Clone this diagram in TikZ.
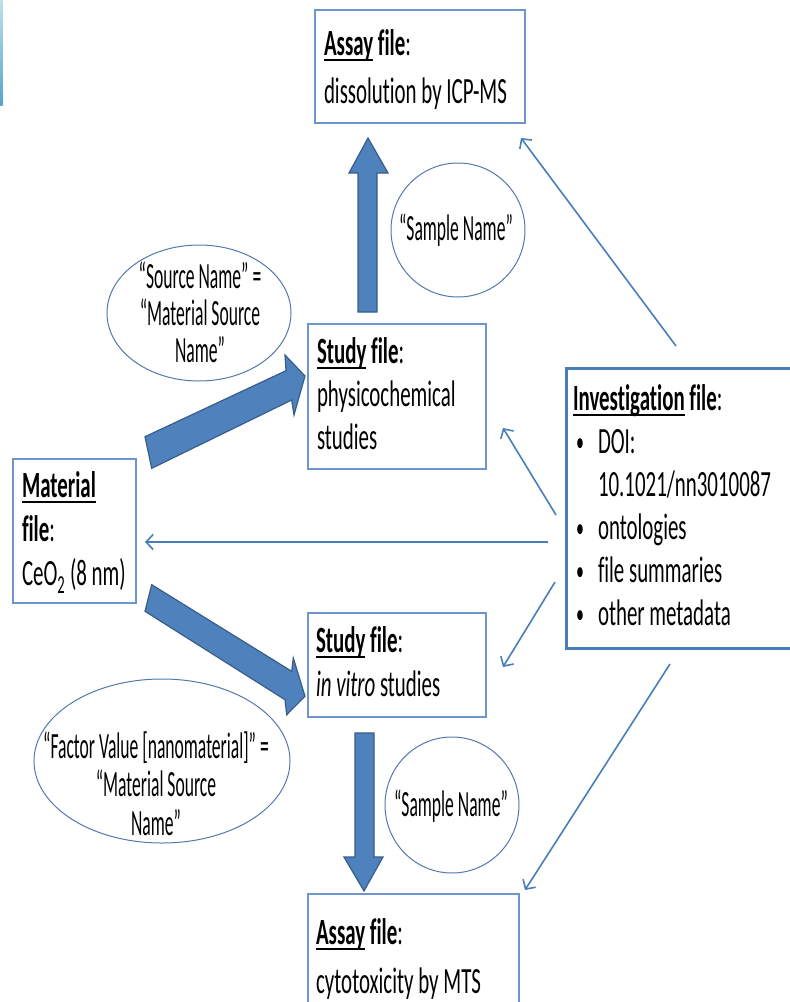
\documentclass[tikz,border=0pt]{standalone}
\usepackage{fontspec}
\setmainfont{Carlito}[FakeStretch=0.565,Ligatures=NoCommon]
\newfontfamily\ellfont{Carlito}[FakeStretch=0.475,Ligatures=NoCommon]
\usetikzlibrary{shapes.geometric,arrows.meta}
\definecolor{boxblue}{RGB}{110,150,205}
\definecolor{arrowblue}{RGB}{74,126,187}
\definecolor{fatfill}{RGB}{79,129,189}
\definecolor{fatedge}{RGB}{56,93,138}
\definecolor{ellblue}{RGB}{85,120,175}
\definecolor{invblue}{RGB}{74,126,187}
\definecolor{stripA}{RGB}{190,225,236}
\definecolor{stripB}{RGB}{85,165,200}
\newsavebox\ulbox
\newcommand\ulword[1]{\leavevmode\sbox\ulbox{#1}\rlap{\rule[-5.5pt]{\wd\ulbox}{2pt}}\usebox\ulbox}
\newcommand\bul{\hspace*{3pt}\makebox[22pt][l]{\raisebox{1.5pt}{\fontsize{28}{28}\selectfont •}}}
\begin{document}
\begin{tikzpicture}[x=1pt,y=-1pt,
  filebox/.style={draw=boxblue,line width=1.3pt,rectangle,inner sep=0,outer sep=0,anchor=north west},
  invbox/.style={draw=invblue,line width=3pt,rectangle,inner sep=0,outer sep=0,anchor=north west},
  oval/.style={draw=ellblue,line width=1pt,ellipse,inner sep=0,outer sep=0},
  txt/.style={anchor=base west,inner sep=0,outer sep=0},
  ctxt/.style={anchor=base,inner sep=0,outer sep=0},
  thinarrow/.style={draw=arrowblue,line width=1.6pt,-{Straight Barb[length=7pt,width=15pt]}},
  fatarrow/.style={fill=fatfill,draw=fatedge,line width=1.2pt,line join=miter}]
\useasboundingbox (0,0) rectangle (790,1002);
\clip (0,0) rectangle (790,1002);
\fill[white] (0,0) rectangle (790,1002);
% thin strip at the top-left edge
\shade[top color=stripA,bottom color=stripB] (0,0) rectangle (2.5,105);

% boxes
\node[filebox,minimum width=210,minimum height=113] (assayTop) at (315,10) {};
\node[filebox,minimum width=178,minimum height=145] (study1) at (308,324) {};
\node[filebox,minimum width=123,minimum height=144] (material) at (13,459) {};
\node[filebox,minimum width=178,minimum height=104] (study2) at (308,613) {};
\node[filebox,minimum width=211,minimum height=120] (assayBot) at (308,894) {};
\node[invbox,minimum width=240,minimum height=280] (inv) at (566,368) {};

% ellipses
\node[oval,minimum width=134,minimum height=134] (smp1) at (458,230) {};
\node[oval,minimum width=184,minimum height=136] (src) at (199,313) {};
\node[oval,minimum width=256,minimum height=164] (fac) at (162,761) {};
\node[oval,minimum width=134,minimum height=136] (smp2) at (452,805) {};

% box texts
\node[txt] (tAssayTop) at (324,55) {\parbox[t]{250pt}{\fontsize{37}{48}\selectfont
  \ulword{\textbf{Assay}}\textbf{ file}:\\dissolution by ICP-MS}};
\node[txt] (tStudy1) at (317,363) {\parbox[t]{250pt}{\fontsize{37}{43}\selectfont
  \ulword{\textbf{Study}}\textbf{ file}:\\physicochemical\\studies}};
\node[txt] (tMaterial) at (22,497) {\parbox[t]{200pt}{\fontsize{37}{44}\selectfont
  \ulword{\textbf{Material}}\\\textbf{file}:\\CeO\textsubscript{2} (8 nm)}};
\node[txt] (tStudy2) at (316,652) {\parbox[t]{250pt}{\fontsize{37}{44}\selectfont
  \ulword{\textbf{Study}}\textbf{ file}:\\\textit{in vitro} studies}};
\node[txt] (tAssayBot) at (316,944) {\parbox[t]{250pt}{\fontsize{37}{49}\selectfont
  \ulword{\textbf{Assay}}\textbf{ file}:\\cytotoxicity by MTS}};
\node[txt] (tInv) at (573,410) {\parbox[t]{300pt}{\fontsize{37}{43}\selectfont
  \ulword{\textbf{Investigation}}\textbf{ file}:\\
  \bul DOI:\\
  \hspace*{25pt}10.1021/nn3010087\\
  \bul ontologies\\
  \bul file summaries\\
  \bul other metadata}};

% ellipse texts
\node[ctxt] (tSmp1) at (456,240) {\ellfont\fontsize{37}{39}\selectfont “Sample Name”};
\node[ctxt] (tSmp2) at (451,816) {\ellfont\fontsize{37}{39}\selectfont “Sample Name”};
\node[ctxt] (tSrc) at (200,288) {\parbox[t]{300pt}{\centering\ellfont\fontsize{37}{37}\selectfont
  “Source Name” =\\“Material Source\\Name”}};
\node[ctxt] (tFac) at (156,758) {\parbox[t]{300pt}{\centering\ellfont\fontsize{37}{38.5}\selectfont
  “Factor Value [nanomaterial]” =\\“Material Source\\Name”}};

% fat arrows
\fill[fatarrow] (145,436.7) -- (286,370.7) -- (285,355) -- (305,376) -- (294,415) -- (291.7,400) -- (151.7,468.3) -- cycle;
\fill[fatarrow] (151.7,584.7) -- (291.7,671.3) -- (293.3,658) -- (305,696.3) -- (286.7,714.7) -- (285,699.7) -- (145,611.3) -- cycle;
\fill[fatarrow] (358,312) -- (358,173) -- (349,173) -- (368,138) -- (388,173) -- (377,173) -- (377,312) -- cycle;
\fill[fatarrow] (355,733) -- (355,857) -- (344,857) -- (364,891) -- (383,857) -- (374,857) -- (374,733) -- cycle;

% thin connectors from the investigation file
\coordinate (i1) at (676,346);
\coordinate (i2) at (556,515);
\coordinate (i3) at (548,542);
\coordinate (i4) at (555,582);
\coordinate (i5) at (670,664);
\coordinate (e1) at (521,138);
\coordinate (e2) at (503,428);
\coordinate (e3) at (145,542);
\coordinate (e4) at (503,667);
\coordinate (e5) at (525,890);
\draw[thinarrow] (i1) -- (e1);
\draw[thinarrow] (i2) -- (e2);
\draw[thinarrow] (i3) -- (e3);
\draw[thinarrow] (i4) -- (e4);
\draw[thinarrow] (i5) -- (e5);
\end{tikzpicture}
\end{document}
